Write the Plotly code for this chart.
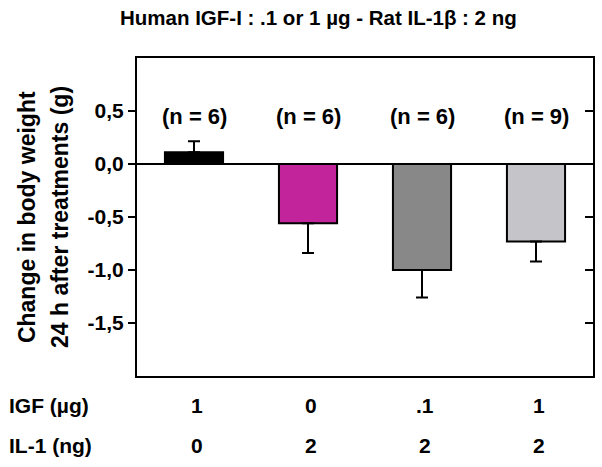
import plotly.graph_objects as go

categories = ["A", "B", "C", "D"]
values = [0.11, -0.56, -1.00, -0.73]
err_up = [0.105, 0, 0, 0]
err_down = [0, 0.28, 0.26, 0.19]
colors = ["#000000", "#c1249b", "#888888", "#c5c5c9"]
n_labels = ["(n = 6)", "(n = 6)", "(n = 6)", "(n = 9)"]
igf = ["1", "0", ".1", "1"]
il1 = ["0", "2", "2", "2"]
tick_vals = [0.5, 0.0, -0.5, -1.0, -1.5]
tick_text = ["0,5", "0,0", "-0,5", "-1,0", "-1,5"]
ytitle_lines = ["Change in body weight", "24 h after treatments (g)"]

FONT = "Liberation Sans, Arial, sans-serif"
FS = 21

fig = go.Figure()
fig.add_trace(go.Bar(
    x=categories, y=values,
    marker=dict(color=colors, line=dict(color="black", width=2)),
    width=0.51,
    error_y=dict(type="data", symmetric=False, array=err_up, arrayminus=err_down,
                 color="black", thickness=2, width=6),
    showlegend=False, hoverinfo="skip",
))
# invisible companion trace so the right-hand (inside-tick) axis is drawn
fig.add_trace(go.Scatter(x=categories, y=values, yaxis="y2", mode="none",
                         showlegend=False, hoverinfo="skip"))

def f(size=FS):
    return dict(size=size, color="black", family=FONT)

ann = []
for c, t in zip(categories, n_labels):
    ann.append(dict(x=c, y=0.45, xref="x", yref="y", text="<b>%s</b>" % t,
                    xanchor="center", yanchor="middle", showarrow=False, font=f(22)))
for c, t in zip(categories, igf):
    ann.append(dict(x=c, y=-0.094, xref="x", yref="paper", text="<b>%s</b>" % t,
                    xanchor="center", yanchor="middle", showarrow=False, font=f(), xshift=3))
for c, t in zip(categories, il1):
    ann.append(dict(x=c, y=-0.217, xref="x", yref="paper", text="<b>%s</b>" % t,
                    xanchor="center", yanchor="middle", showarrow=False, font=f(), xshift=3))
ann.append(dict(x=-0.285, y=-0.094, xref="paper", yref="paper", xanchor="left", yanchor="middle",
                text="<b>IGF (µg)</b>", showarrow=False, font=f()))
ann.append(dict(x=-0.285, y=-0.217, xref="paper", yref="paper", xanchor="left", yanchor="middle",
                text="<b>IL-1 (ng)</b>", showarrow=False, font=f()))
ann.append(dict(x=0.397, y=1.126, xref="paper", yref="paper", xanchor="center", yanchor="middle",
                text="<b>Human IGF-I : .1 or 1 µg - Rat IL-1β : 2 ng</b>", showarrow=False,
                font=f(20.5)))
for xp, t in zip([-0.241, -0.169], ytitle_lines):
    ann.append(dict(x=xp, y=0.5, xref="paper", yref="paper", textangle=-90,
                    xanchor="center", yanchor="middle",
                    text="<b>%s</b>" % t, showarrow=False, font=f(23)))

fig.update_layout(
    width=602, height=467,
    margin=dict(l=137, r=9, t=58, b=91),
    plot_bgcolor="white", paper_bgcolor="white",
    font=dict(family=FONT, color="black"),
    bargap=0.49,
    xaxis=dict(showticklabels=False, ticks="", showline=True, linecolor="black",
               linewidth=2, mirror=True, showgrid=False),
    yaxis=dict(range=[-2.0, 1.0], tickvals=tick_vals, ticktext=["<b>%s</b>" % t for t in tick_text],
               ticks="outside", ticklen=7, tickwidth=2, tickcolor="black",
               showline=True, linecolor="black", linewidth=2, showgrid=False,
               zeroline=True, zerolinecolor="black", zerolinewidth=2,
               tickfont=f()),
    yaxis2=dict(range=[-2.0, 1.0], overlaying="y", side="right", tickvals=tick_vals,
                showticklabels=False, ticks="inside", ticklen=8, tickwidth=2,
                tickcolor="black", showgrid=False, zeroline=False,
                showline=True, linecolor="black", linewidth=2),
    annotations=ann,
)

fig.write_html("out.html", config={"displayModeBar": False},
               post_script="document.body.style.margin='0px';")
